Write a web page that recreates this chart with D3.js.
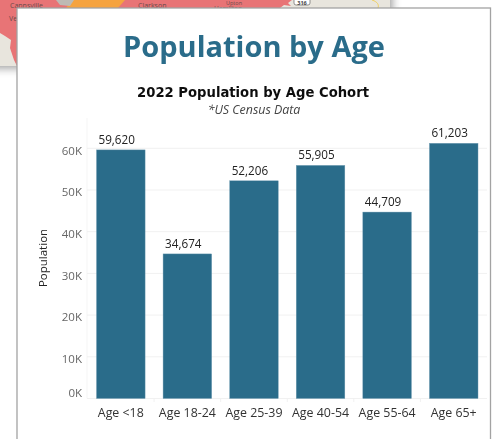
<!DOCTYPE html>
<html>
<head>
<meta charset="utf-8">
<script src="https://cdn.jsdelivr.net/npm/d3@7"></script>
<style>
  html, body { margin: 0; padding: 0; background: #fff; overflow: hidden; }
  svg { display: block; }
  text { font-family: "Open Sans", "Noto Sans", sans-serif; }
</style>
</head>
<body>
<div id="chart"></div>
<script>
var categories = ["Age <18", "Age 18-24", "Age 25-39", "Age 40-54", "Age 55-64", "Age 65+"];
var population = [59620, 34674, 52206, 55905, 44709, 61203];
var yTicks = [0, 10000, 20000, 30000, 40000, 50000, 60000];
var places = ["Cannsville", "Ve", "Clarkson", "Upton", "Hamilton"];

var width = 492, height = 439;
var svg = d3.select("#chart").append("svg")
    .attr("width", width)
    .attr("height", height);

// --------- map screenshot behind the panel --------- //
var defs = svg.append("defs");
var shadow = defs.append("filter").attr("id", "shadow")
    .attr("x", "-20%").attr("y", "-60%").attr("width", "140%").attr("height", "220%");
shadow.append("feGaussianBlur").attr("stdDeviation", 5);
var soft = defs.append("filter").attr("id", "soft");
soft.append("feGaussianBlur").attr("stdDeviation", 0.3);

var map = svg.append("g");
map.append("rect").attr("x", -20).attr("y", -20).attr("width", 412).attr("height", 88)
    .attr("fill", "#000").attr("opacity", 0.4).attr("filter", "url(#shadow)");
map.append("rect").attr("width", 390).attr("height", 66).attr("fill", "#e8e5dd");
map.append("path").attr("fill", "#e87476")
    .attr("d", "M0,0H292L288,3L291,6L284,5L280,8H17V66L14,60L10,48L11,40L5,36L0,33Z");
map.append("path").attr("fill", "#f5a33f")
    .attr("d", "M72,0H125L118,8H66Z");
map.append("path").attr("fill", "#bdbab4")
    .attr("d", "M56,0H74L70,6L60,5Z");
map.append("path").attr("fill", "none").attr("stroke", "#f0d060").attr("stroke-width", 1)
    .attr("d", "M372,0C378,2 379,5 378,8");
map.append("rect").attr("x", 294).attr("y", -3).attr("width", 16).attr("height", 8).attr("rx", 2)
    .attr("fill", "#fff").attr("stroke", "#666").attr("stroke-width", 0.7);
map.append("text").attr("x", 302).attr("y", 4.5).attr("text-anchor", "middle")
    .attr("font-size", 5.5).attr("font-weight", 700).attr("fill", "#444").text("316");
var placeX = [10, 9, 138, 226, 214];
var placeY = [8, 21, 8, 4.8, 11];
var placeSize = [7, 7, 7, 5.5, 6.5];
map.selectAll("text.place")
    .data(places)
    .join("text").attr("class", "place")
    .attr("x", function(d, i){ return placeX[i]; })
    .attr("y", function(d, i){ return placeY[i]; })
    .attr("font-size", function(d, i){ return placeSize[i]; })
    .attr("fill", "#6a4a4a")
    .text(function(d){ return d; });

// --------- white panel --------- //
svg.append("rect").attr("x", 17).attr("y", 8).attr("width", 473.5).attr("height", 450)
    .attr("fill", "#fff").attr("stroke", "#a3a3a3").attr("stroke-width", 1.3);

var g = svg.append("g").attr("filter", "url(#soft)");

g.append("text").attr("x", 254).attr("y", 57).attr("text-anchor", "middle")
    .attr("font-size", 29).attr("font-weight", 700).attr("fill", "#2c6c8a")
    .text("Population by Age");
g.append("text").attr("x", 253).attr("y", 97).attr("text-anchor", "middle")
    .style("font-family", "'DejaVu Sans', sans-serif")
    .attr("font-size", 13.2).attr("font-weight", 700).attr("fill", "#111")
    .text("2022 Population by Age Cohort");
g.append("text").attr("x", 254).attr("y", 114).attr("text-anchor", "middle")
    .attr("font-size", 12.4).attr("font-style", "italic").attr("fill", "#444")
    .text("*US Census Data");

// --------- scales --------- //
var x = d3.scaleBand().domain(categories).range([87.5, 487]).paddingInner(0.27).paddingOuter(0.135);
var y = d3.scaleLinear().domain([0, 60000]).range([398.5, 148.3]);

// grid
g.append("line").attr("x1", 87).attr("x2", 87).attr("y1", 118).attr("y2", 398.5)
    .attr("stroke", "#f5f5f5");
g.selectAll("line.grid").data(yTicks).join("line").attr("class", "grid")
    .attr("x1", 87).attr("x2", 487)
    .attr("y1", function(d){ return y(d); })
    .attr("y2", function(d){ return y(d); })
    .attr("stroke", "#f1f1f1").attr("stroke-width", 1);
g.selectAll("line.stub").data(categories.slice(1)).join("line").attr("class", "stub")
    .attr("x1", function(d){ return x(d) - x.step() * x.paddingInner() / 2; })
    .attr("x2", function(d){ return x(d) - x.step() * x.paddingInner() / 2; })
    .attr("y1", 398.5).attr("y2", 402)
    .attr("stroke", "#f1f1f1");

// y axis, the 0K label sits a little above its gridline in the reference
var yAxis = d3.axisLeft(y).tickValues(yTicks).tickSize(0).tickPadding(5)
    .tickFormat(function(d){ return (d / 1000) + "K"; });
var yG = g.append("g").attr("transform", "translate(87,0)").call(yAxis);
yG.select(".domain").remove();
yG.selectAll("text").attr("font-size", 11.5).attr("fill", "#666")
    .style("font-family", "'Open Sans', sans-serif")
    .attr("dy", function(d){ return d === 0 ? "-0.2em" : "0.5em"; });

g.append("text")
    .attr("transform", "translate(46.5,258) rotate(-90)")
    .attr("text-anchor", "middle")
    .attr("font-size", 11.5).attr("fill", "#222").text("Population");

// bars
g.selectAll("rect.bar").data(population).join("rect").attr("class", "bar")
    .attr("x", function(d, i){ return x(categories[i]); })
    .attr("y", function(d){ return y(d); })
    .attr("width", x.bandwidth())
    .attr("height", function(d){ return y(0) - y(d); })
    .attr("fill", "#2c6c8a")
    .attr("stroke", "#6f9db3").attr("stroke-width", 0.4);

// value labels sit at the left of each bar
g.selectAll("text.val").data(population).join("text").attr("class", "val")
    .attr("x", function(d, i){ return x(categories[i]) + 2; })
    .attr("y", function(d){ return y(d) - 6; })
    .attr("font-size", 11.7).attr("fill", "#222")
    .text(function(d){ return d3.format(",")(d); });

// x axis
var xAxis = d3.axisBottom(x).tickSize(0).tickPadding(10);
var xG = g.append("g").attr("transform", "translate(0,398.5)").call(xAxis);
xG.select(".domain").remove();
xG.selectAll("text").attr("font-size", 12.4).attr("fill", "#333")
    .style("font-family", "'Open Sans', sans-serif");
</script>
</body>
</html>
